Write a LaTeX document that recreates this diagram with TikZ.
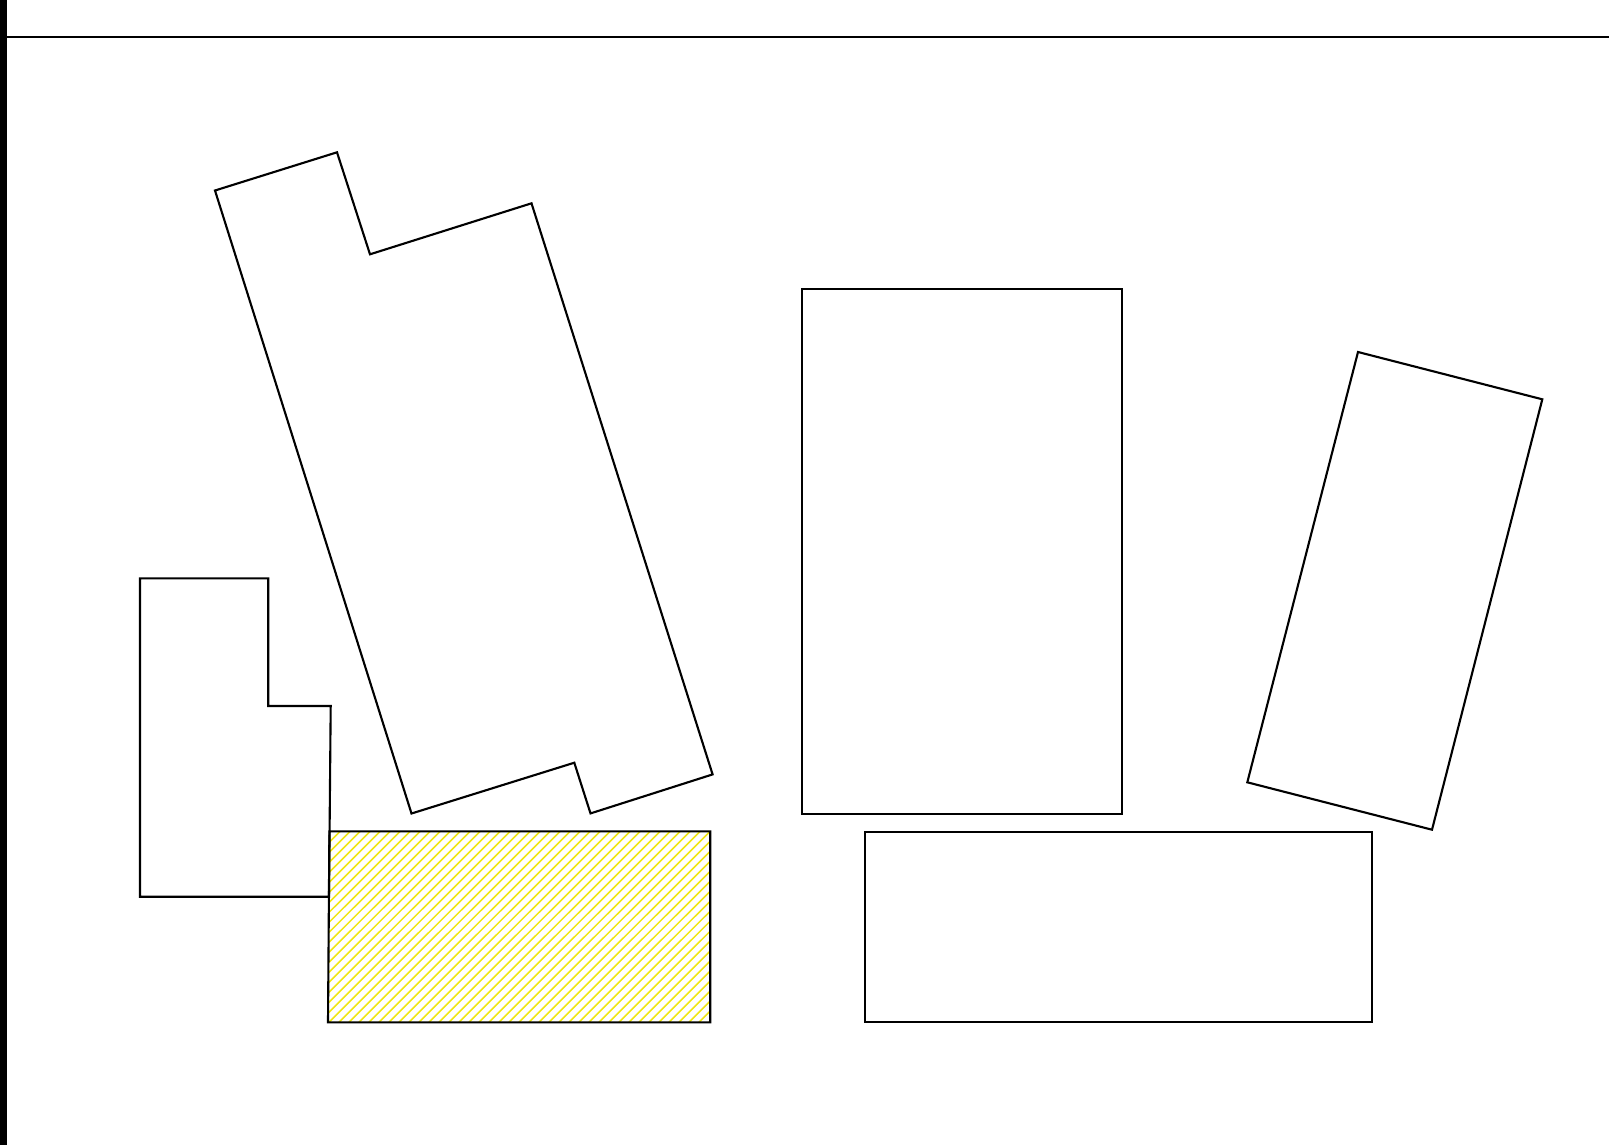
\documentclass[tikz,border=0pt]{standalone}
\usepackage{xcolor}
\usepackage{tikz}
\definecolor{hatchyellow}{RGB}{240, 230, 20}

\begin{document}
\begin{tikzpicture}[
			x=0.01cm, y=-0.01cm,
			outline/.style={draw=black, line width=0.6pt, line join=miter},
			hatchline/.style={draw=hatchyellow, line width=0.45pt}
		]
		\useasboundingbox (0,0) rectangle (1609,1145);
		% page frame
		\fill[black] (0,0) rectangle (7,1145);
		\draw[line width=0.35pt] (7,37) -- (1609,37);

		% hatched block
		\begin{scope}
			\clip (329.4,831.4) -- (710.2,831.4) -- (710.2,1022.3) -- (328,1022.3) -- cycle;
			\foreach \d in {-200,-190,...,400}
				\draw[hatchline] (329+\d,1022.3) -- (329+\d+191,831.4);
		\end{scope}
		\draw[outline] (329.4,831.4) -- (710.2,831.4) -- (710.2,1022.3) -- (328,1022.3) -- cycle;

		% tilted building
		\draw[outline] (215,190.5) -- (337,152.3) -- (370,254.3) -- (531.5,203.3)
			-- (712.6,774.4) -- (590.5,813.4) -- (574.3,762.7) -- (411.5,813.5) -- cycle;

		% L-shaped block
		\draw[outline] (140,578.3) -- (268.3,578.3) -- (268.3,706) -- (330.7,706)
			-- (329,896.7) -- (140,896.7) -- cycle;

		% middle block
		\draw[outline] (802,288.7) rectangle (1121.8,813.6);

		% bottom right block
		\draw[outline] (865,831.6) rectangle (1372.3,1022.3);

		% tilted right block
		\draw[outline] (1358,352) -- (1542.3,399.3) -- (1432,829.7) -- (1247.3,782.3) -- cycle;
\end{tikzpicture}
\end{document}
